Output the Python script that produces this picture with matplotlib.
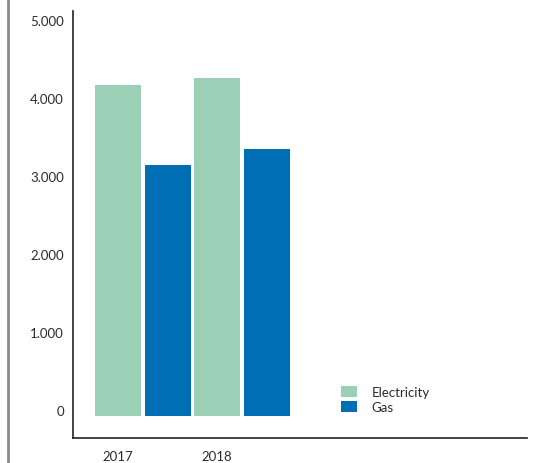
import matplotlib.pyplot as plt
from matplotlib.lines import Line2D
import numpy as np

years = ['2017', '2018']
electricity = [4240, 4330]
gas = [3215, 3420]
y_ticks = [0, 1000, 2000, 3000, 4000, 5000]
y_tick_labels = ['0', '1.000', '2.000', '3.000', '4.000', '5.000']

elec_color = '#9bd0b7'
gas_color = '#006eb5'
text_color = '#2b2b2b'

plt.rcParams['font.family'] = ['Lato', 'DejaVu Sans']

fig = plt.figure(figsize=(5.43, 4.64), dpi=100)
ax = fig.add_axes([73 / 543, 1 - 439 / 464, (527 - 73) / 543, (439 - 12) / 464])

x = np.arange(len(years))
width = 0.465
ax.bar(x, electricity, width, color=elec_color, label='Electricity')
ax.bar(x + 0.505, gas, width, color=gas_color, label='Gas')

ax.set_xlim(-0.455, 4.13)
ax.set_ylim(-286, 5190)

# y labels sit just above their value, like the original
ax.set_yticks([])
for v, lab in zip(y_ticks, y_tick_labels):
    ax.annotate(lab, xy=(0, v), xycoords=('axes fraction', 'data'),
                xytext=(-6.5, -1), textcoords='offset points',
                ha='right', va='bottom', fontsize=9.5, color=text_color)

ax.set_xticks(x)
ax.set_xticklabels(years, fontsize=9.5, color=text_color)
ax.tick_params(axis='x', length=0, pad=9)

for side in ['top', 'right']:
    ax.spines[side].set_visible(False)
for side in ['left', 'bottom']:
    ax.spines[side].set_color('#222222')
    ax.spines[side].set_linewidth(1.2)

ax.legend(loc='lower left', bbox_to_anchor=(0.565, 0.03), frameon=False,
          fontsize=9.5, handlelength=1.2, handleheight=0.85, handletextpad=1.1,
          labelspacing=0.25, labelcolor=text_color)

# page border line at the left
fig.add_artist(Line2D([8 / 543, 8 / 543], [0, 1], color='#8a8a8a', linewidth=2))

fig.savefig('out.png', dpi=100)
